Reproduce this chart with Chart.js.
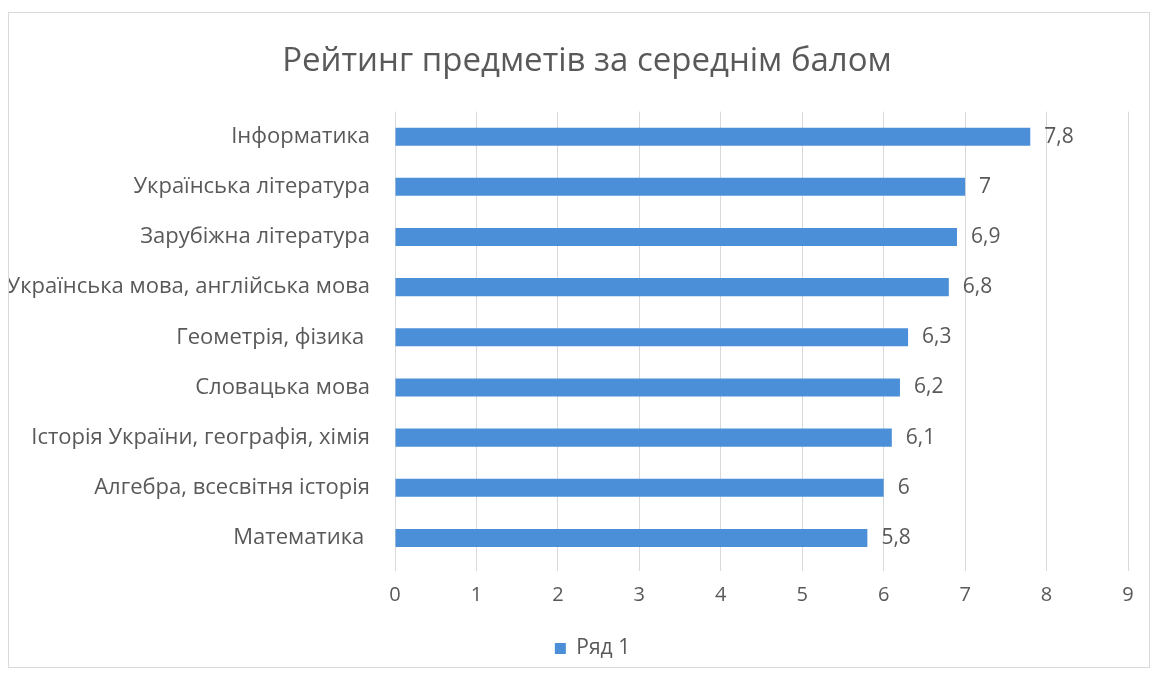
<!DOCTYPE html>
<html>
<head>
<meta charset="utf-8">
<script src="https://cdn.jsdelivr.net/npm/chart.js@4"></script>
<style>
  body { margin: 0; background: #fff; }
  #wrap { position: absolute; left: 8px; top: 12px; width: 1142px; height: 656px; border: 1px solid #d9d9d9; box-sizing: border-box; }
</style>
</head>
<body>
<div id="wrap"><canvas id="chart"></canvas></div>
<script>
// Subjects, top to bottom as in the picture
const subjects = [
    'Інформатика',
    'Українська література',
    'Зарубіжна література',
    'Українська мова, англійська мова',
    'Геометрія, фізика ',
    'Словацька мова',
    'Історія України, географія, хімія',
    'Алгебра, всесвітня історія',
    'Математика '
];
const scores = [7.8, 7, 6.9, 6.8, 6.3, 6.2, 6.1, 6, 5.8];
const xTicks = [0, 1, 2, 3, 4, 5, 6, 7, 8, 9];

const textColor = '#595959';
const barColor = '#4a8fd8';
const fontFamily = '"Open Sans", "Liberation Sans", sans-serif';

// Value labels at the end of each bar (decimal comma)
const valueLabels = {
    id: 'valueLabels',
    afterDatasetsDraw(chart) {
        const ctx = chart.ctx;
        const meta = chart.getDatasetMeta(0);
        ctx.save();
        ctx.font = '21px ' + fontFamily;
        ctx.fillStyle = textColor;
        ctx.textAlign = 'left';
        ctx.textBaseline = 'middle';
        meta.data.forEach((bar, i) => {
            const txt = String(scores[i]).replace('.', ',');
            ctx.fillText(txt, bar.x + 14, bar.y);
        });
        ctx.restore();
    }
};

// Excel centres title and legend a bit right of the canvas middle
const shiftBlocks = {
    id: 'shiftBlocks',
    afterLayout(chart) {
        if (chart.titleBlock) chart.titleBlock.left += 37;
        if (chart.legend) chart.legend.left += 48;
    }
};

new Chart(document.getElementById('chart').getContext('2d'), {
    type: 'bar',
    data: {
        labels: subjects,
        datasets: [{
            label: 'Ряд 1',
            data: scores,
            backgroundColor: barColor,
            borderWidth: 0,
            barPercentage: 0.36,
            categoryPercentage: 1
        }]
    },
    options: {
        indexAxis: 'y',
        responsive: true,
        maintainAspectRatio: false,
        animation: false,
        layout: { padding: { top: 20, right: 21, left: 0, bottom: -2 } },
        plugins: {
            title: {
                display: true,
                text: 'Рейтинг предметів за середнім балом',
                color: textColor,
                font: { family: fontFamily, size: 33, weight: 'normal' },
                padding: { top: 9, bottom: 30 }
            },
            legend: {
                position: 'bottom',
                labels: {
                    color: textColor,
                    font: { family: fontFamily, size: 21 },
                    boxWidth: 11,
                    boxHeight: 11,
                    padding: 6
                }
            },
            tooltip: { enabled: false }
        },
        scales: {
            x: {
                min: 0,
                max: 9,
                afterBuildTicks(scale) {
                    scale.ticks = xTicks.map(v => ({ value: v }));
                },
                afterFit(scale) { scale.height = 69; },
                grid: { color: '#d9d9d9', drawTicks: true, tickLength: 8 },
                border: { display: false },
                ticks: {
                    color: textColor,
                    font: { family: fontFamily, size: 20 },
                    padding: 12
                }
            },
            y: {
                grid: { display: false },
                border: { display: false },
                afterFit(scale) { scale.width = 386; },
                ticks: {
                    color: textColor,
                    font: { family: fontFamily, size: 22 },
                    padding: 17
                }
            }
        }
    },
    plugins: [valueLabels, shiftBlocks]
});
</script>
</body>
</html>
